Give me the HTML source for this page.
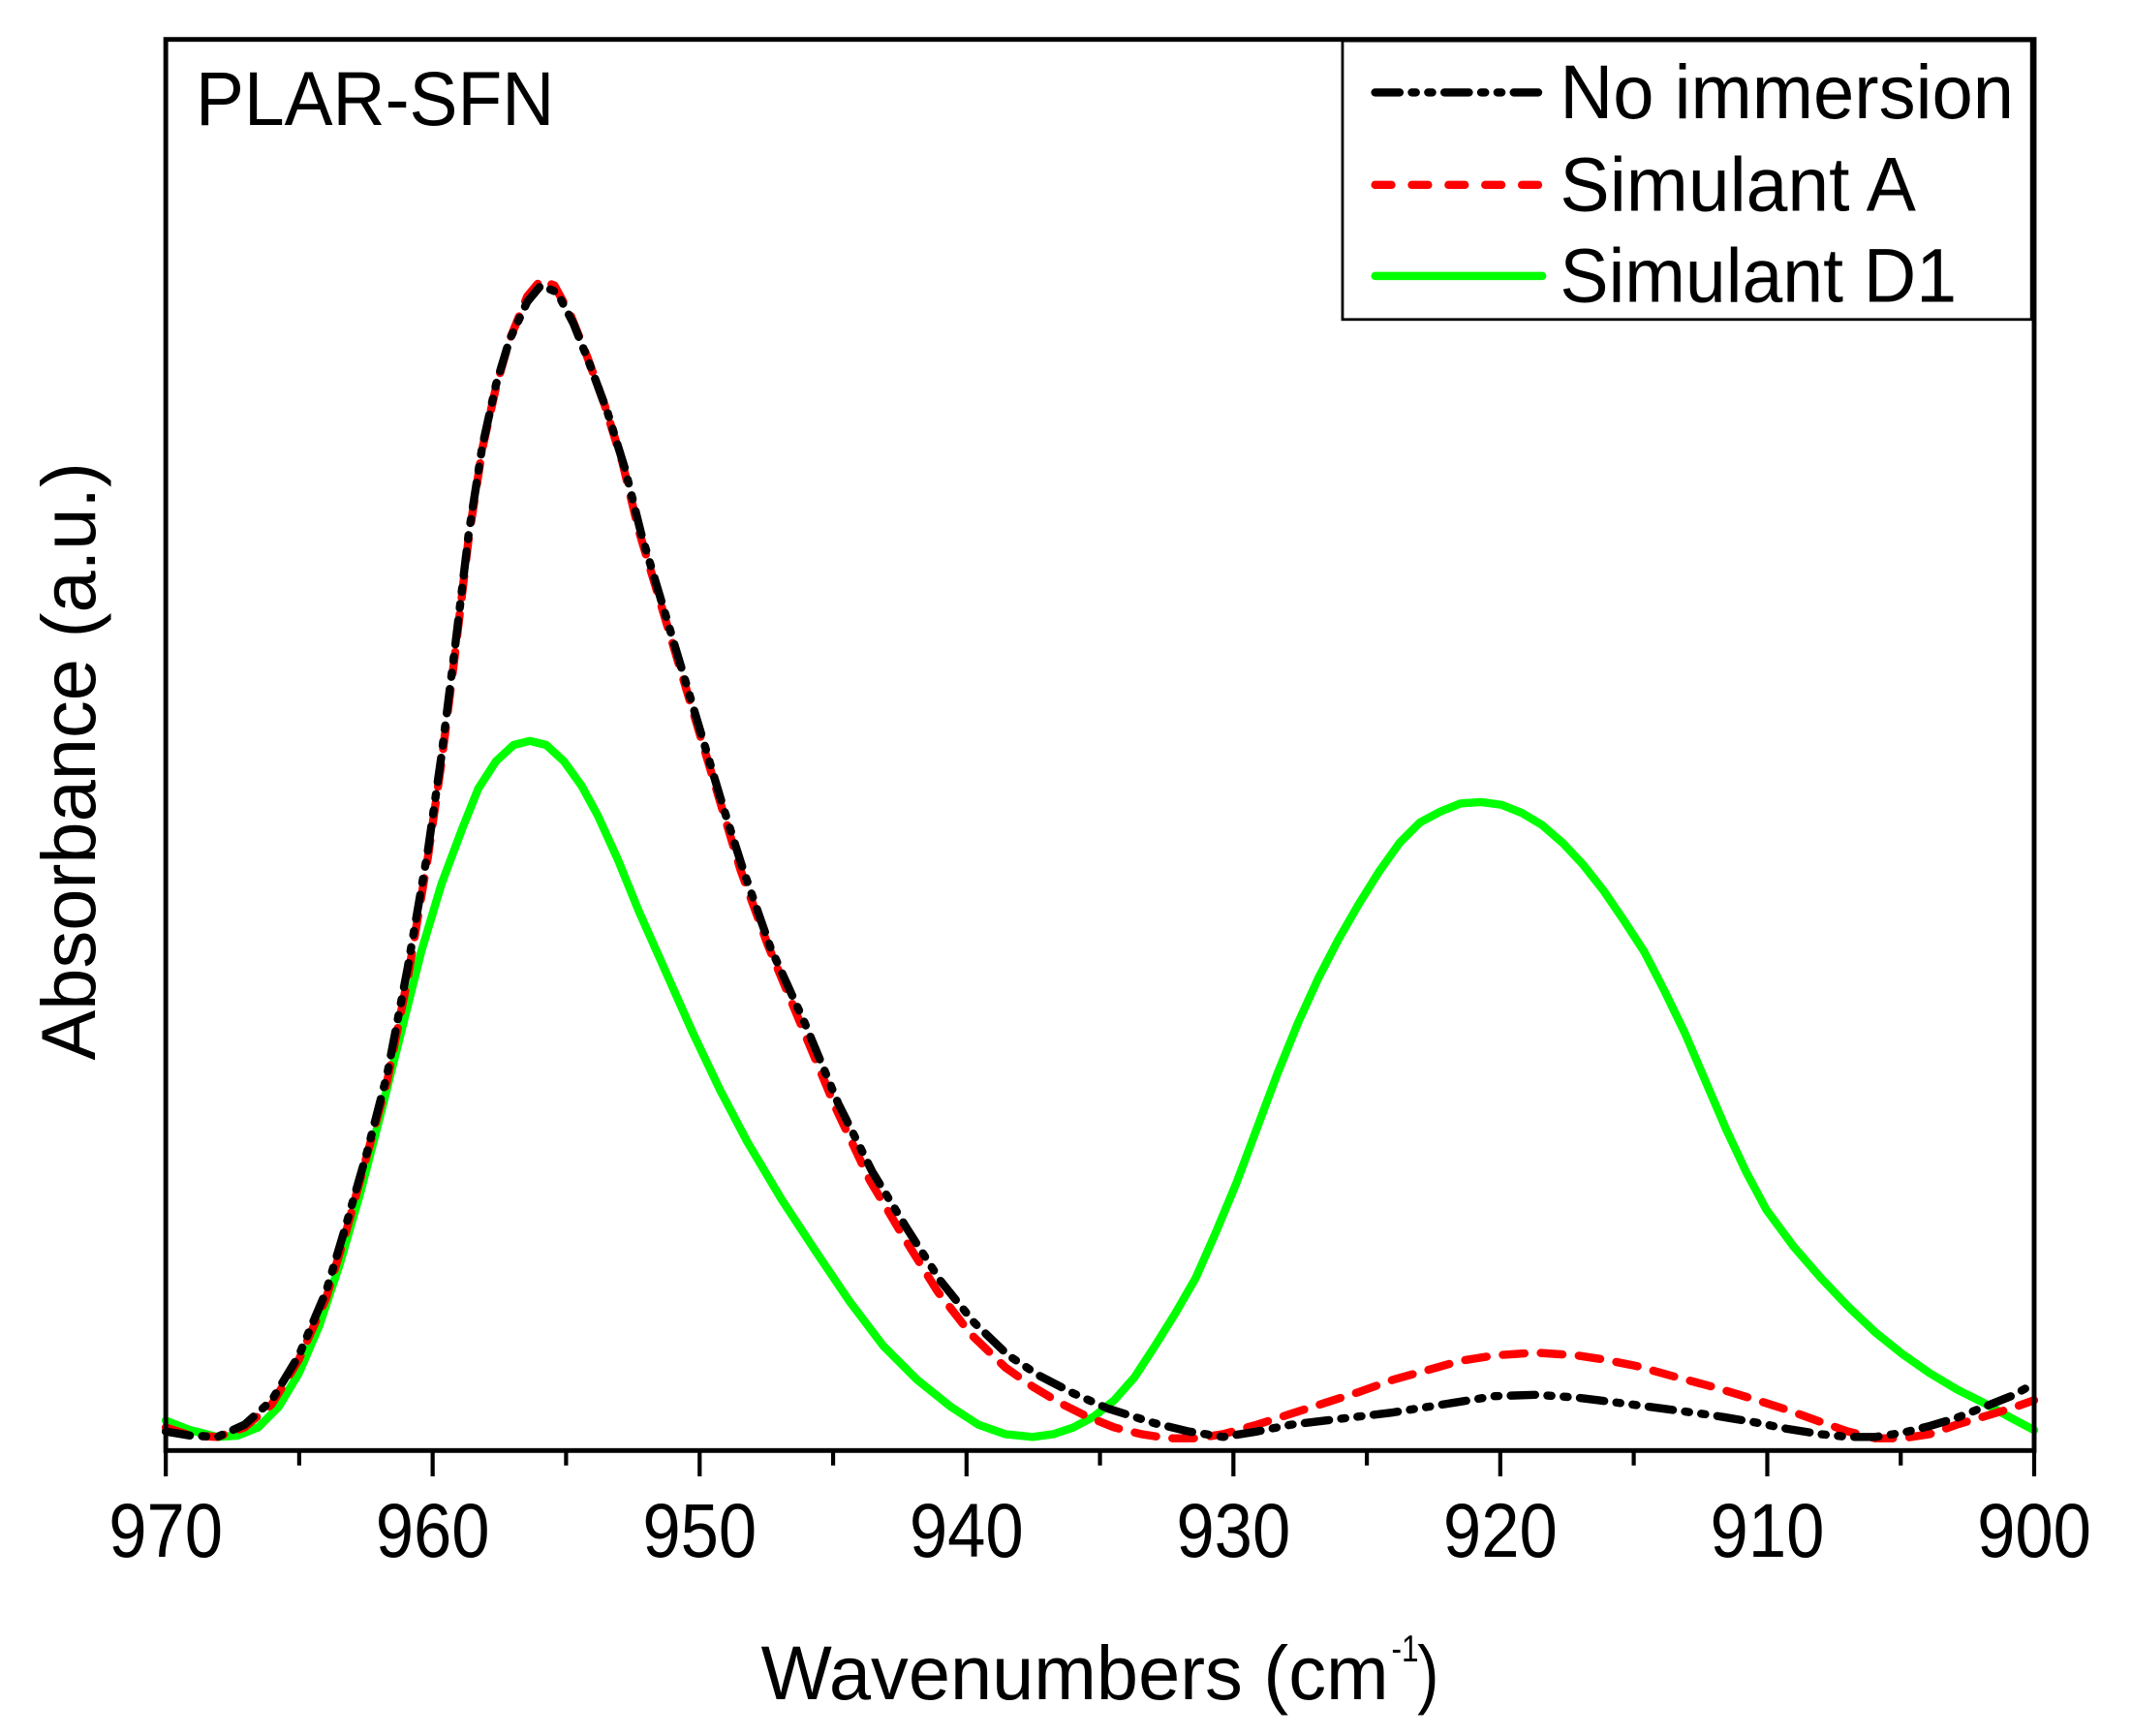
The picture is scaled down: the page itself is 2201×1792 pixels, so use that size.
<!DOCTYPE html>
<html><head><style>html,body{margin:0;padding:0;background:#fff;}svg{display:block;}</style></head>
<body>
<svg width="2201" height="1792" viewBox="0 0 1569 1277" preserveAspectRatio="none" xmlns="http://www.w3.org/2000/svg" font-family="'Liberation Sans',sans-serif">
<rect width="1569" height="1277" fill="#fff"/>
<g fill="none" stroke-linejoin="round" stroke-linecap="round">
<polyline stroke="#00ff00" stroke-width="6" points="122,1045 140,1052 160,1057 175,1056 190,1050 205,1035 220,1010 235,975 250,930 265,878 280,820 295,760 310,700 325,650 340,610 352,580 365,560 378,548 390,545 402,548 415,560 428,578 440,600 455,633 470,670 490,715 510,760 530,802 550,840 575,882 600,920 625,957 650,990 675,1015 700,1035 720,1048 740,1055 760,1057 775,1055 790,1050 805,1042 820,1030 835,1013 850,990 865,966 880,940 895,906 910,870 925,830 940,790 955,753 970,720 985,691 1000,665 1015,641 1030,620 1045,605 1060,597 1075,591 1090,590 1105,592 1120,598 1135,607 1150,620 1165,636 1180,655 1195,677 1210,700 1225,729 1240,760 1255,795 1270,830 1285,862 1300,890 1320,917 1340,940 1360,961 1380,980 1400,996 1420,1010 1440,1022 1460,1032 1480,1043 1497,1052"/>
<polyline stroke="#ff0000" stroke-width="6" stroke-dasharray="16,12" points="122,1050 140,1056 160,1057 180,1050 200,1033 220,1000 240,955 255,905 270,850 285,795 300,720 315,630 325,560 335,480 345,395 355,330 365,285 375,250 388,218 398,206 408,210 420,232 432,262 445,298 458,340 470,390 485,440 500,490 515,540 530,590 545,640 565,695 590,755 615,815 640,868 665,910 690,950 715,982 740,1006 760,1020 780,1032 800,1042 820,1050 840,1055 860,1058 880,1058 900,1055 925,1048 950,1040 975,1032 1000,1024 1025,1015 1050,1008 1075,1001 1100,997 1130,995 1160,997 1180,1000 1205,1005 1230,1012 1260,1020 1290,1029 1315,1037 1340,1046 1360,1053 1380,1058 1400,1058 1420,1055 1440,1048 1460,1042 1480,1036 1497,1030"/>
<polyline stroke="#000" stroke-width="6" stroke-dasharray="18,9,3,9,3,9" points="122,1053 140,1056 160,1057 180,1048 200,1030 220,997 240,950 255,900 270,848 285,790 300,712 315,625 325,555 335,475 345,392 355,328 365,283 375,250 388,222 398,210 410,215 422,238 434,268 447,303 460,345 472,393 487,443 502,493 517,543 532,593 547,640 567,697 592,752 617,812 642,862 667,903 692,942 717,973 742,997 765,1012 790,1025 815,1036 850,1047 875,1053 900,1057 925,1053 950,1048 975,1045 1000,1042 1025,1039 1050,1035 1075,1031 1100,1027 1130,1026 1160,1028 1200,1033 1230,1037 1260,1041 1290,1046 1315,1051 1340,1055 1360,1057 1380,1057 1400,1054 1420,1049 1440,1043 1460,1035 1480,1027 1497,1018"/>
</g>
<rect x="122" y="29" width="1375" height="1038" fill="none" stroke="#000" stroke-width="3.5"/>
<g stroke="#000" stroke-width="3">
<line x1="122" y1="1067" x2="122" y2="1086"/><line x1="220.2" y1="1067" x2="220.2" y2="1078"/>
<line x1="318.4" y1="1067" x2="318.4" y2="1086"/><line x1="416.6" y1="1067" x2="416.6" y2="1078"/>
<line x1="514.9" y1="1067" x2="514.9" y2="1086"/><line x1="613.1" y1="1067" x2="613.1" y2="1078"/>
<line x1="711.3" y1="1067" x2="711.3" y2="1086"/><line x1="809.5" y1="1067" x2="809.5" y2="1078"/>
<line x1="907.7" y1="1067" x2="907.7" y2="1086"/><line x1="1005.9" y1="1067" x2="1005.9" y2="1078"/>
<line x1="1104.1" y1="1067" x2="1104.1" y2="1086"/><line x1="1202.3" y1="1067" x2="1202.3" y2="1078"/>
<line x1="1300.6" y1="1067" x2="1300.6" y2="1086"/><line x1="1398.8" y1="1067" x2="1398.8" y2="1078"/>
<line x1="1497" y1="1067" x2="1497" y2="1086"/>
</g>
<g font-size="56" text-anchor="middle" fill="#000">
<text x="122" y="1145" textLength="84" lengthAdjust="spacingAndGlyphs">970</text>
<text x="318.4" y="1145" textLength="84" lengthAdjust="spacingAndGlyphs">960</text>
<text x="514.9" y="1145" textLength="84" lengthAdjust="spacingAndGlyphs">950</text>
<text x="711.3" y="1145" textLength="84" lengthAdjust="spacingAndGlyphs">940</text>
<text x="907.7" y="1145" textLength="84" lengthAdjust="spacingAndGlyphs">930</text>
<text x="1104.1" y="1145" textLength="84" lengthAdjust="spacingAndGlyphs">920</text>
<text x="1300.6" y="1145" textLength="84" lengthAdjust="spacingAndGlyphs">910</text>
<text x="1497" y="1145" textLength="84" lengthAdjust="spacingAndGlyphs">900</text>
</g>
<text x="560" y="1250" font-size="56" textLength="462" lengthAdjust="spacingAndGlyphs">Wavenumbers (cm</text>
<text x="1024" y="1222" font-size="28" textLength="20" lengthAdjust="spacingAndGlyphs">-1</text>
<text x="1043" y="1250" font-size="56" textLength="16" lengthAdjust="spacingAndGlyphs">)</text>
<text transform="translate(70,560) rotate(-90)" font-size="56" text-anchor="middle" textLength="440" lengthAdjust="spacingAndGlyphs">Absorbance (a.u.)</text>
<text x="144" y="92" font-size="56" textLength="264" lengthAdjust="spacingAndGlyphs">PLAR-SFN</text>
<rect x="988" y="30" width="507" height="205" fill="#fff" stroke="#000" stroke-width="2"/>
<line x1="1012" y1="68" x2="1135" y2="68" stroke="#000" stroke-width="6" stroke-linecap="round" stroke-dasharray="18,9,3,9,3,9"/>
<line x1="1012" y1="136" x2="1135" y2="136" stroke="#ff0000" stroke-width="6" stroke-linecap="round" stroke-dasharray="12,15"/>
<line x1="1012" y1="203" x2="1135" y2="203" stroke="#00ff00" stroke-width="6" stroke-linecap="round"/>
<g font-size="56">
<text x="1148" y="87" textLength="334" lengthAdjust="spacingAndGlyphs">No immersion</text>
<text x="1148" y="155" textLength="262" lengthAdjust="spacingAndGlyphs">Simulant A</text>
<text x="1148" y="222" textLength="292" lengthAdjust="spacingAndGlyphs">Simulant D1</text>
</g>
</svg>
</body></html>
